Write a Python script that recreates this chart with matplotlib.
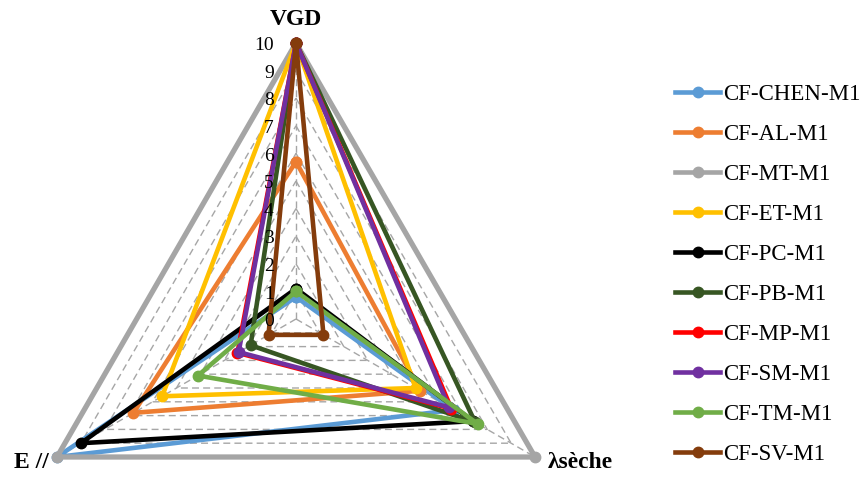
import numpy as np
import matplotlib
matplotlib.use("Agg")
import matplotlib.pyplot as plt
from matplotlib.lines import Line2D

plt.rcParams["font.family"] = ["Liberation Serif", "DejaVu Serif"]

categories = ["VGD", "λsèche", "E //"]
series_names = ["CF-CHEN-M1", "CF-AL-M1", "CF-MT-M1", "CF-ET-M1", "CF-PC-M1",
                "CF-PB-M1", "CF-MP-M1", "CF-SM-M1", "CF-TM-M1", "CF-SV-M1"]
# values per series: VGD, λsèche, E //
chen = [0.8, 6.6, 10.0]
al = [5.7, 5.2, 6.8]
mt = [10.0, 10.0, 10.0]
et = [10.0, 5.0, 5.6]
pc = [1.1, 7.4, 9.0]
pb = [10.0, 7.5, 1.9]
mp = [10.0, 6.5, 2.45]
sm = [10.0, 6.4, 2.4]
tm = [1.0, 7.6, 4.1]
sv = [10.0, 1.15, 1.15]
series_values = [chen, al, mt, et, pc, pb, mp, sm, tm, sv]
colors = ["#5B9BD5", "#ED7D31", "#A5A5A5", "#FFC000", "#000000",
          "#375623", "#FF0000", "#7030A0", "#70AD47", "#843C0C"]
scale_ticks = list(range(0, 11))

W, H = 862, 494
fig = plt.figure(figsize=(W / 100, H / 100), dpi=100)

cx, cy, R = 296, 319, 276
ax = fig.add_axes([(cx - R) / W, (H - cy - R) / H, 2 * R / W, 2 * R / H], projection="polar")
ax.set_theta_offset(np.pi / 2)
ax.set_theta_direction(-1)
ax.set_ylim(0, 10)
ax.set_xticks([])
ax.set_yticks([])
ax.grid(False)
ax.spines["polar"].set_visible(False)
ax.patch.set_alpha(0)

angles = np.linspace(0, 2 * np.pi, len(categories), endpoint=False)
closed = np.concatenate([angles, angles[:1]])

# dashed polygon grid and spokes
for r in range(1, 10):
    ax.plot(closed, [r] * len(closed), color="#A6A6A6", lw=1.0, ls=(0, (5, 3)), zorder=1)
for a in angles:
    ax.plot([a, a], [0, 10], color="#A6A6A6", lw=1.0, ls=(0, (5, 3)), zorder=1)

for i, (name, vals) in enumerate(zip(series_names, series_values)):
    v = np.concatenate([vals, vals[:1]])
    lw = 3.8 if name == "CF-MT-M1" else 3.3
    ax.plot(closed, v, color=colors[i], lw=lw, marker="o", markersize=7.5,
            solid_joinstyle="round", clip_on=False, zorder=2 + i)

# scale labels along VGD axis
for t in scale_ticks:
    ax.annotate(str(t), (0, t), xytext=(-16, -2), textcoords="offset points",
                ha="right", va="center", fontsize=14, annotation_clip=False, zorder=20)

# category labels
ax.annotate(categories[0], (0, 10), xytext=(0, 17), textcoords="offset points",
            ha="center", va="center", fontsize=17, fontweight="bold", annotation_clip=False)
ax.annotate(categories[1], (angles[1], 10), xytext=(9, -4), textcoords="offset points",
            ha="left", va="center", fontsize=17, fontweight="bold", annotation_clip=False)
ax.annotate(categories[2], (angles[2], 10), xytext=(-6, -4), textcoords="offset points",
            ha="right", va="center", fontsize=17, fontweight="bold", annotation_clip=False)

handles = [Line2D([0], [0], color=c, lw=3.3, marker="o", markersize=7.5) for c in colors]
fig.legend(handles, series_names, loc="upper left", bbox_to_anchor=(654 / W, 1 - 63 / H),
           frameon=False, fontsize=16.5, handlelength=2.0, handletextpad=0.1,
           labelspacing=0.83)

fig.savefig("out.png", dpi=100)
